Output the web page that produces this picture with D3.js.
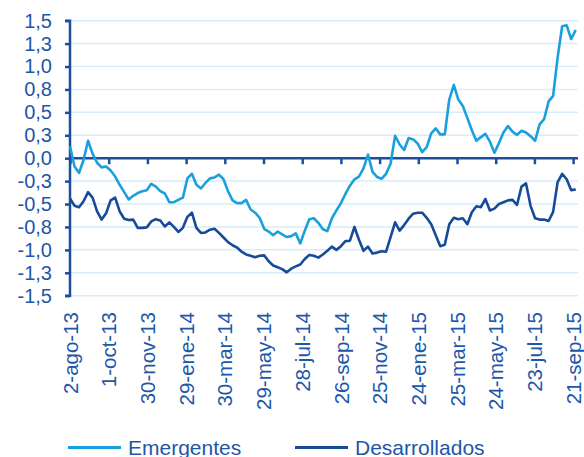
<!DOCTYPE html>
<html>
<head>
<meta charset="utf-8">
<script src="https://cdn.jsdelivr.net/npm/d3@7"></script>
<style>
    body { margin: 0; background: white; }
    svg { display: block; }
</style>
</head>
<body>
<div id="chart"></div>
<script>
// Series values, one per week starting 2-ago-13
const startDate = "2013-08-02";

const emergentes = [
    0.13, -0.09, -0.16, -0.02, 0.19, 0.05, -0.05, -0.10, -0.09, -0.135,
    -0.20, -0.29, -0.37, -0.45, -0.41, -0.38, -0.36, -0.35, -0.28, -0.31,
    -0.36, -0.385, -0.48, -0.48, -0.455, -0.43, -0.22, -0.17, -0.29, -0.33,
    -0.27, -0.22, -0.21, -0.18, -0.23, -0.36, -0.46, -0.49, -0.49, -0.455,
    -0.56, -0.595, -0.65, -0.77, -0.80, -0.84, -0.80, -0.83, -0.86, -0.85,
    -0.82, -0.93, -0.79, -0.665, -0.655, -0.705, -0.775, -0.795, -0.655, -0.57,
    -0.49, -0.39, -0.30, -0.23, -0.20, -0.11, 0.04, -0.15, -0.205, -0.225,
    -0.17, -0.06, 0.245, 0.15, 0.09, 0.22, 0.205, 0.16, 0.065, 0.12,
    0.27, 0.325, 0.26, 0.26, 0.64, 0.80, 0.64, 0.57, 0.44, 0.305,
    0.19, 0.23, 0.265, 0.18, 0.06, 0.165, 0.28, 0.35, 0.29, 0.255,
    0.30, 0.28, 0.24, 0.19, 0.37, 0.425, 0.62, 0.68, 1.10, 1.44,
    1.45, 1.30, 1.40
];

const desarrollados = [
    -0.44, -0.52, -0.535, -0.47, -0.37, -0.43, -0.58, -0.67, -0.60, -0.46,
    -0.43, -0.58, -0.66, -0.675, -0.67, -0.76, -0.76, -0.755, -0.69, -0.665,
    -0.68, -0.745, -0.70, -0.75, -0.805, -0.76, -0.64, -0.595, -0.76, -0.815,
    -0.81, -0.78, -0.77, -0.815, -0.865, -0.915, -0.95, -0.975, -1.02, -1.05,
    -1.065, -1.08, -1.065, -1.06, -1.125, -1.17, -1.19, -1.21, -1.245, -1.205,
    -1.18, -1.16, -1.10, -1.055, -1.065, -1.085, -1.05, -1.01, -0.965, -1.00,
    -0.96, -0.905, -0.90, -0.75, -0.89, -1.01, -0.965, -1.04, -1.03, -1.015,
    -1.02, -0.86, -0.70, -0.79, -0.73, -0.66, -0.605, -0.595, -0.595, -0.65,
    -0.72, -0.84, -0.96, -0.945, -0.72, -0.65, -0.665, -0.655, -0.72, -0.59,
    -0.525, -0.535, -0.445, -0.57, -0.55, -0.50, -0.48, -0.46, -0.455, -0.51,
    -0.31, -0.275, -0.52, -0.655, -0.67, -0.67, -0.685, -0.585, -0.26, -0.17,
    -0.23, -0.35, -0.34
];

// Axis ticks
const xTickDates = [
    "2013-08-02", "2013-10-01", "2013-11-30", "2014-01-29", "2014-03-30",
    "2014-05-29", "2014-07-28", "2014-09-26", "2014-11-25", "2015-01-24",
    "2015-03-25", "2015-05-24", "2015-07-23", "2015-09-21"
];
const xTickLabels = [
    "2-ago-13", "1-oct-13", "30-nov-13", "29-ene-14", "30-mar-14",
    "29-may-14", "28-jul-14", "26-sep-14", "25-nov-14", "24-ene-15",
    "25-mar-15", "24-may-15", "23-jul-15", "21-sep-15"
];
const yTicks = [-1.5, -1.25, -1, -0.75, -0.5, -0.25, 0, 0.25, 0.5, 0.75, 1, 1.25, 1.5];

const seriesNames = ["Emergentes", "Desarrollados"];

// SVG dimensions
const w = 584;
const h = 457;
const plotLeft = 70;
const plotRight = 575.7;
const gridRight = 578;
const plotTop = 20.7;
const plotBottom = 295.7;

const textColor = "#1d57a8";
const axisColor = "#1b4f9e";
const gridColor = "#d7edf9";
const colors = ["#1aa0de", "#174a99"];

const parseDate = d3.utcParse("%Y-%m-%d");
const start = parseDate(startDate);

function toRows(values) {
    return values.map((v, i) => ({ date: d3.utcDay.offset(start, 7 * i), value: v }));
}

const series = [toRows(emergentes), toRows(desarrollados)];
const endDate = series[0][series[0].length - 1].date;

const fmt = d3.formatLocale({
    decimal: ",",
    thousands: ".",
    grouping: [3],
    currency: ["", ""],
    minus: "-"
}).format(".1f");

// Scales
const xScale = d3.scaleUtc()
    .domain([start, endDate])
    .range([plotLeft, plotRight]);

const yScale = d3.scaleLinear()
    .domain([-1.5, 1.5])
    .range([plotBottom, plotTop]);

const svg = d3.select("#chart")
    .append("svg")
    .attr("width", w)
    .attr("height", h)
    .style("font-family", "Liberation Sans, Arial, sans-serif");

// Gridlines
svg.append("g")
    .selectAll("line")
    .data(yTicks.filter(d => d !== 0))
    .enter()
    .append("line")
    .attr("x1", plotLeft)
    .attr("x2", gridRight)
    .attr("y1", d => yScale(d))
    .attr("y2", d => yScale(d))
    .attr("stroke", gridColor)
    .attr("stroke-width", 1.5);

// Y axis
const yAxis = d3.axisLeft(yScale)
    .tickValues(yTicks)
    .tickFormat(fmt)
    .tickSize(5)
    .tickPadding(13);

const gy = svg.append("g")
    .attr("transform", "translate(" + plotLeft + ",0)")
    .call(yAxis);

gy.select(".domain")
    .attr("d", "M-5," + plotTop + "H0V" + plotBottom + "H-5")
    .attr("stroke", axisColor)
    .attr("stroke-width", 2.5);
gy.selectAll(".tick line")
    .attr("stroke", axisColor)
    .attr("stroke-width", 2.5);
gy.selectAll(".tick text")
    .attr("fill", textColor)
    .style("font-size", "20px");

// X axis along zero
const xAxis = d3.axisBottom(xScale)
    .tickValues(xTickDates.map(parseDate))
    .tickFormat((d, i) => xTickLabels[i])
    .tickSize(6)
    .tickSizeOuter(0);

const gx = svg.append("g")
    .attr("transform", "translate(0," + yScale(0) + ")")
    .call(xAxis);

gx.select(".domain")
    .attr("d", "M" + plotLeft + ",0H" + gridRight)
    .attr("stroke", axisColor)
    .attr("stroke-width", 2.5);
gx.selectAll(".tick line")
    .attr("stroke", axisColor)
    .attr("stroke-width", 2.5);

// Rotated date labels under the plot
gx.selectAll(".tick text")
    .attr("fill", textColor)
    .style("font-size", "20.5px")
    .attr("text-anchor", "end")
    .attr("dy", "0.35em")
    .attr("y", 0)
    .attr("transform", "translate(0," + (312 - yScale(0)) + ") rotate(-90)");

// Lines
const line = d3.line()
    .x(d => xScale(d.date))
    .y(d => yScale(d.value));

svg.selectAll("path.series")
    .data(series)
    .enter()
    .append("path")
    .attr("class", "series")
    .attr("fill", "none")
    .attr("stroke", (d, i) => colors[i])
    .attr("stroke-width", 2.6)
    .attr("stroke-linejoin", "round")
    .attr("d", line);

// Legend
const legendX = [68, 295];
const legend = svg.selectAll("g.legend")
    .data(seriesNames)
    .enter()
    .append("g")
    .attr("class", "legend")
    .attr("transform", (d, i) => "translate(" + legendX[i] + ",447.5)");

legend.append("line")
    .attr("x1", 0)
    .attr("x2", 53)
    .attr("stroke", (d, i) => colors[i])
    .attr("stroke-width", 3);

legend.append("text")
    .attr("x", 60)
    .attr("y", 7)
    .attr("fill", textColor)
    .style("font-size", "21px")
    .text(d => d);
</script>
</body>
</html>
